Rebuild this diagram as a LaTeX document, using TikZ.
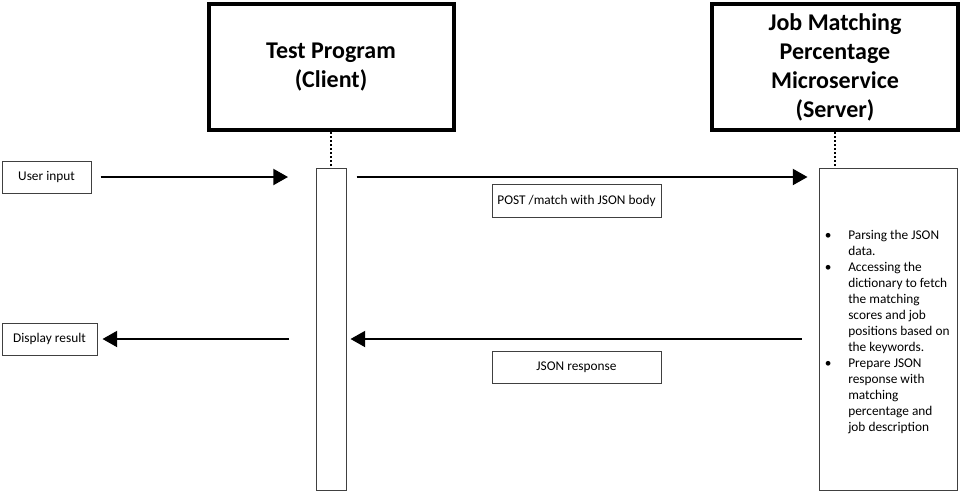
\documentclass[tikz,border=0pt]{standalone}
\usepackage{fontspec}
\setmainfont{Carlito}
\usetikzlibrary{arrows.meta,positioning}
\tikzset{
	titlebox/.style={draw, line width=3pt, align=center, inner sep=0pt, font=\fontsize{18}{21.75}\selectfont\bfseries},
	bar/.style={draw=black!75, line width=0.75pt, inner sep=0pt},
	lbl/.style={draw=black!75, line width=0.75pt, inner sep=0pt, font=\fontsize{10}{12}\selectfont},
	msg/.style={line width=1.5pt, -{Triangle[length=11pt,width=12pt]}},
	lifeline/.style={line width=1.5pt, dash pattern=on 1.5pt off 1.5pt}
}
\begin{document}
\begin{tikzpicture}[x=0.75pt, y=-0.75pt]
		\useasboundingbox (0,0) rectangle (960,493);
		% participants
		\node[titlebox, minimum width=183.75pt, minimum height=94.5pt] (client) at (331,67) {Test Program\\(Client)};
		\node[titlebox, minimum width=184.5pt, minimum height=94.5pt] (server) at (835,67) {Job Matching\\Percentage\\Microservice\\(Server)};
		\node[bar, minimum width=22.5pt, minimum height=241.5pt] (clientbar) at (331,329) {};
		\node[bar, minimum width=103.5pt, minimum height=241.5pt] (serverbar) at (888,329) {};
		\draw[lifeline] (client.south) -- (clientbar.north);
		\draw[lifeline] (server.south) -- (server.south |- serverbar.north);
		% labels
		\node[lbl, minimum width=66.75pt, minimum height=24pt] (userin) at (46.5,177) {User input};
		\node[lbl, minimum width=71.25pt, minimum height=24pt] (display) at (49.5,339) {Display result};
		\node[lbl, minimum width=126.75pt, minimum height=24.75pt] (postlbl) at (576.5,200.5) {POST /match with JSON body};
		\node[lbl, minimum width=126.75pt, minimum height=24pt] (resplbl) at (576.5,367) {JSON response};
		\node[anchor=north west, inner sep=0pt, align=left, font=\fontsize{10}{12}\selectfont] (steps) at (848,230)
			{\llap{\textbullet\hspace{12.5pt}}Parsing the JSON\\data.\\
			\llap{\textbullet\hspace{12.5pt}}Accessing the\\dictionary to fetch\\the matching\\scores and job\\positions based on\\the keywords.\\
			\llap{\textbullet\hspace{12.5pt}}Prepare JSON\\response with\\matching\\percentage and\\job description};
		% messages
		\coordinate (uin) at (288,177);
		\coordinate (dout) at (289,339);
		\draw[msg, shorten <=6.75pt] (userin.east) -- (uin);
		\draw[msg, shorten <=7.5pt, shorten >=8.25pt] (clientbar.east |- userin.east) -- (serverbar.west |- userin.east);
		\draw[msg, shorten <=12.75pt, shorten >=3pt] (serverbar.west |- display.east) -- (clientbar.east |- display.east);
		\draw[msg, shorten >=3.75pt] (dout) -- (display.east);
\end{tikzpicture}
\end{document}
